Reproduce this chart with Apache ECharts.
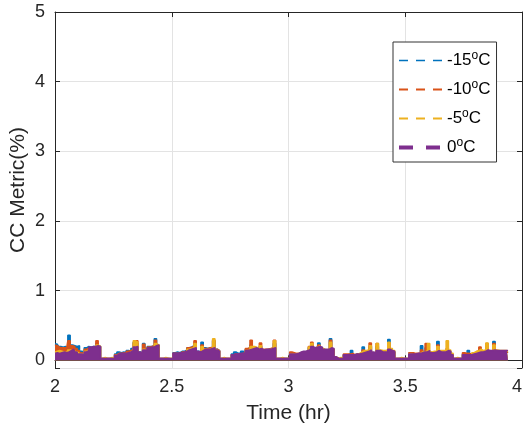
<!DOCTYPE html>
<html>
<head>
<meta charset="utf-8">
<script src="https://cdn.jsdelivr.net/npm/echarts@6/dist/echarts.min.js"></script>
<style>html,body{margin:0;padding:0;background:#fff;}#c{width:525px;height:437px;}</style>
</head>
<body>
<div id="c"></div>
<script>
// Sampling of the time axis (hours)
const tStart = 2.0;
const tStep = 0.01;
const xTicks = [2, 2.5, 3, 3.5, 4];
const yTicks = [0, 1, 2, 3, 4, 5];
const seriesNames = ['-15', '-10', '-5', '0'];

const cMinus15 = [
  .24,.23,.20,.19,.20,.19,.36,.22,.21,.20,.21,.13,.12,.18,.20,.19,.20,.20,.24,.20,
  .02,.02,.02,.02,.02,.02,
  .09,.12,.11,.12,.11,.14,.13,.17,.26,.24,.12,.11,.24,.17,.20,.20,.21,.31,.22,
  .02,.02,.02,.02,.02,.02,
  .11,.12,.11,.13,.13,.15,.18,.19,.21,.25,.13,.12,.26,.18,.17,.18,.18,.28,.16,.14,
  .02,.02,.02,.02,.02,
  .09,.12,.10,.10,.13,.12,.16,.18,.22,.18,.17,.16,.20,.15,.15,.16,.16,.18,.24,
  .02,.02,.02,.02,.02,.02,
  .11,.10,.09,.10,.11,.12,.12,.14,.18,.22,.18,.19,.25,.17,.15,.14,.15,.31,.16,.05,
  .02,.02,.02,
  .08,.08,.09,.14,.08,.09,.09,.10,.19,.12,.13,.20,.10,.10,.20,.13,.12,.12,.13,.30,.15,.12,
  .02,.02,.02,.02,.02,.02,
  .10,.10,.09,.09,.10,.21,.11,.18,.13,.11,.11,.12,.27,.12,.12,.12,.14,.12,.08,
  .02,.02,.02,.02,
  .09,.09,.14,.09,.10,.11,.12,.16,.12,.12,.20,.11,.12,.27,.13,.12,.12,.12,.12,.11
];
const cMinus10 = [
  .22,.21,.19,.18,.18,.18,.28,.21,.20,.17,.14,.11,.10,.16,.18,.18,.19,.20,.28,.20,
  .02,.02,.02,.02,.02,.02,
  .08,.10,.10,.11,.10,.13,.14,.16,.25,.28,.11,.10,.23,.16,.19,.20,.21,.29,.22,
  .02,.02,.02,.02,.02,.02,
  .10,.10,.10,.12,.12,.14,.18,.19,.20,.28,.12,.12,.22,.17,.17,.18,.19,.29,.16,.14,
  .02,.02,.02,.02,.02,
  .08,.09,.09,.09,.10,.11,.17,.18,.29,.18,.17,.17,.25,.16,.16,.16,.17,.18,.29,
  .02,.02,.02,.02,.02,.02,
  .12,.11,.10,.10,.11,.12,.12,.14,.20,.26,.18,.19,.22,.17,.15,.14,.15,.29,.16,.05,
  .02,.02,.02,
  .09,.09,.09,.10,.08,.09,.09,.10,.15,.12,.14,.25,.10,.10,.24,.13,.12,.12,.13,.25,.15,.12,
  .02,.02,.02,.02,.02,.02,
  .11,.11,.10,.10,.10,.15,.12,.24,.13,.11,.11,.12,.22,.12,.12,.12,.17,.12,.08,
  .02,.02,.02,.02,
  .11,.10,.10,.09,.10,.11,.13,.19,.12,.13,.24,.11,.12,.24,.13,.12,.12,.12,.12,.11
];
const cMinus5 = [
  .12,.13,.14,.13,.12,.11,.15,.14,.13,.12,.10,.09,.08,.13,.15,.16,.17,.19,.22,.20,
  .03,.04,.03,.03,.04,.03,
  .07,.08,.09,.09,.09,.10,.12,.14,.28,.26,.10,.09,.16,.15,.17,.18,.19,.24,.22,
  .03,.03,.04,.03,.03,.03,
  .09,.09,.09,.10,.11,.13,.16,.17,.18,.24,.11,.11,.20,.16,.16,.16,.18,.31,.15,.13,
  .03,.04,.03,.03,.03,
  .07,.08,.08,.08,.09,.10,.14,.15,.20,.20,.19,.15,.21,.14,.14,.15,.16,.17,.28,
  .03,.03,.04,.03,.03,.03,
  .09,.09,.08,.09,.10,.11,.12,.13,.19,.24,.18,.19,.21,.18,.16,.15,.16,.26,.16,.05,
  .03,.04,.03,
  .07,.07,.08,.08,.07,.08,.10,.12,.14,.14,.15,.21,.10,.10,.24,.15,.14,.14,.15,.26,.17,.14,
  .03,.03,.04,.03,.03,.03,
  .09,.08,.08,.09,.10,.12,.12,.14,.24,.12,.13,.13,.20,.14,.14,.14,.28,.15,.10,
  .03,.04,.03,.03,
  .08,.08,.08,.08,.11,.13,.14,.16,.14,.15,.25,.12,.12,.22,.15,.14,.14,.14,.14,.13
];
const c0 = [
  .10,.11,.10,.11,.12,.11,.12,.14,.16,.12,.09,.09,.08,.12,.14,.19,.20,.20,.21,.20,
  .03,.025,.03,.03,.025,.03,
  .07,.09,.10,.10,.10,.11,.12,.14,.19,.20,.12,.11,.15,.15,.18,.19,.19,.21,.22,
  .03,.03,.025,.03,.025,.03,
  .10,.10,.11,.11,.12,.13,.15,.16,.17,.18,.13,.12,.14,.16,.16,.16,.17,.18,.15,.13,
  .03,.025,.03,.03,.025,
  .08,.09,.09,.10,.10,.11,.14,.15,.16,.17,.18,.16,.17,.15,.16,.16,.16,.17,.18,
  .03,.03,.025,.03,.03,.025,
  .09,.09,.09,.10,.12,.13,.13,.14,.16,.20,.18,.19,.20,.19,.16,.16,.16,.18,.17,.05,
  .03,.025,.03,
  .08,.08,.08,.08,.08,.09,.09,.10,.11,.12,.13,.15,.12,.11,.14,.14,.12,.12,.12,.16,.14,.13,
  .03,.03,.025,.03,.03,.025,
  .09,.09,.09,.10,.10,.11,.12,.12,.14,.11,.11,.12,.14,.12,.12,.12,.14,.13,.08,
  .03,.025,.03,.03,
  .08,.08,.08,.08,.09,.10,.11,.12,.12,.13,.15,.14,.14,.15,.14,.14,.14,.14,.14,.14
];

const colors = ['#0072BD', '#D95319', '#EDB120', '#7E2F8E'];
const values = [cMinus15, cMinus10, cMinus5, c0];
const textColor = '#262626';
const fontFam = 'Liberation Sans, Arial, sans-serif';

function pairs(arr) {
  return arr.map((v, i) => [+(tStart + i * tStep).toFixed(4), v]);
}

const series = values.map((arr, k) => ({
  name: seriesNames[k],
  type: 'line',
  step: 'middle',
  showSymbol: false,
  symbol: 'none',
  data: pairs(arr),
  lineStyle: { color: colors[k], width: 1.5 },
  itemStyle: { color: colors[k] },
  areaStyle: { color: colors[k], opacity: 1, origin: 0 },
  z: 2 + k,
  animation: false
}));

const legendLines = [
  { width: 1.3, type: [9, 8] },
  { width: 2, type: [9, 8] },
  { width: 2.2, type: [9, 8] },
  { width: 4, type: [14, 13] }
];

const chart = echarts.init(document.getElementById('c'), null, { renderer: 'canvas' });
chart.setOption({
  animation: false,
  backgroundColor: '#fff',
  color: colors,
  grid: { left: 55, right: 3, top: 12, bottom: 69, containLabel: false, outerBoundsMode: 'none' },
  legend: {
    orient: 'vertical',
    left: 393,
    top: 42,
    padding: [8, 6, 4, 4],
    itemWidth: 43,
    itemHeight: 14,
    itemGap: 8,
    backgroundColor: '#fff',
    borderColor: '#333',
    borderWidth: 1,
    borderRadius: 0,
    data: seriesNames.map((n, k) => ({
      name: n,
      lineStyle: Object.assign({ color: colors[k], opacity: 1 }, legendLines[k]),
      itemStyle: { opacity: 0 }
    })),
    formatter: (name) => '{a|' + name + '}{s|o}{a|C}',
    textStyle: {
      color: '#000',
      fontFamily: fontFam,
      rich: {
        a: { fontSize: 17, lineHeight: 21, color: '#000', fontFamily: fontFam },
        s: { fontSize: 12, lineHeight: 21, color: '#000', padding: [0, 0, 9, 0], fontFamily: fontFam }
      }
    }
  },
  xAxis: [{
    type: 'value',
    min: xTicks[0],
    max: xTicks[xTicks.length - 1],
    interval: 0.5,
    name: 'Time (hr)',
    nameLocation: 'middle',
    nameGap: 35,
    nameMoveOverlap: false,
    nameTextStyle: { color: textColor, fontSize: 21, fontFamily: fontFam },
    axisLine: { show: true, lineStyle: { color: textColor, width: 1 } },
    axisTick: { show: true, inside: true, length: 5, lineStyle: { color: textColor } },
    axisLabel: { color: textColor, fontSize: 18, margin: 10, fontFamily: fontFam, alignMaxLabel: 'right',
      formatter: v => (xTicks.indexOf(v) >= 0 ? String(v) : '') },
    splitLine: { show: true, lineStyle: { color: '#e3e3e3', width: 1 } }
  }, {
    type: 'value',
    position: 'top',
    min: xTicks[0],
    max: xTicks[xTicks.length - 1],
    interval: 0.5,
    axisLine: { show: true, onZero: false, lineStyle: { color: textColor, width: 1 } },
    axisTick: { show: true, inside: true, length: 5, lineStyle: { color: textColor } },
    axisLabel: { show: false },
    splitLine: { show: false }
  }],
  yAxis: [{
    type: 'value',
    min: -0.11,
    max: 5,
    splitNumber: 5,
    name: 'CC Metric(%)',
    nameLocation: 'middle',
    nameGap: 26,
    nameMoveOverlap: false,
    nameTextStyle: { color: textColor, fontSize: 21, fontFamily: fontFam },
    axisLine: { show: true, onZero: false, lineStyle: { color: textColor, width: 1 } },
    axisTick: { show: true, inside: true, length: 5, lineStyle: { color: textColor } },
    axisLabel: { color: textColor, fontSize: 18, margin: 10, fontFamily: fontFam,
      formatter: v => (yTicks.indexOf(v) >= 0 ? String(v) : '') },
    splitLine: { show: true, lineStyle: { color: '#e3e3e3', width: 1 } }
  }, {
    type: 'value',
    position: 'right',
    min: -0.11,
    max: 5,
    splitNumber: 5,
    axisLine: { show: true, onZero: false, lineStyle: { color: textColor, width: 1 } },
    axisTick: { show: true, inside: true, length: 5, lineStyle: { color: textColor } },
    axisLabel: { show: false },
    splitLine: { show: false }
  }],
  series: series
});
</script>
</body>
</html>
